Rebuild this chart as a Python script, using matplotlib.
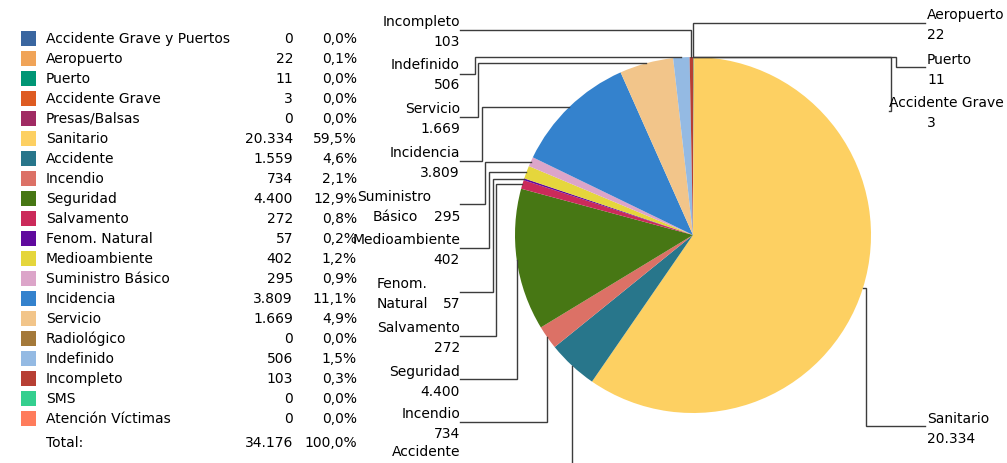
import numpy as np
import matplotlib
matplotlib.use('Agg')
import matplotlib.pyplot as plt

# data
categories = ['Accidente Grave y Puertos', 'Aeropuerto', 'Puerto', 'Accidente Grave',
              'Presas/Balsas', 'Sanitario', 'Accidente', 'Incendio', 'Seguridad',
              'Salvamento', 'Fenom. Natural', 'Medioambiente', 'Suministro Básico',
              'Incidencia', 'Servicio', 'Radiológico', 'Indefinido', 'Incompleto',
              'SMS', 'Atención Víctimas']
counts = [0, 22, 11, 3, 0, 20334, 1559, 734, 4400, 272, 57, 402, 295, 3809, 1669,
          0, 506, 103, 0, 0]
colors = ['#3A66A0', '#F0A458', '#009675', '#DE5B22', '#A02B63', '#FDD062', '#28768B',
          '#DC7166', '#477714', '#CB2A5A', '#600A9E', '#E5D63C', '#DCA5C9', '#3482CD',
          '#F2C58A', '#A4793A', '#94BAE3', '#B73F34', '#34CF8F', '#FF7C5C']

def fmt_int(v):
    return '{:,}'.format(v).replace(',', '.')

def fmt_pct(v):
    return '{:.1f}%'.format(v).replace('.', ',')

total = sum(counts)
pcts = [100.0 * c / total for c in counts]

FONT = 'DejaVu Sans'
FS = 10
LINE_C = '#3c3c3c'

fig = plt.figure(figsize=(10.07, 4.64), dpi=100)
ax = fig.add_axes([0, 0, 1, 1])

# pie, in pixel coordinates (y axis pointing down)
cx, cy, r = 693, 236, 178
ax.pie(counts, colors=colors, startangle=-90, counterclock=True,
       center=(cx, cy), radius=r, frame=True,
       wedgeprops=dict(linewidth=0))
ax.set_xlim(0, 1007)
ax.set_ylim(464, 0)
ax.set_aspect('equal')
ax.axis('off')

def txt(x, y, s, ha):
    ax.text(x, y, s, ha=ha, va='center', fontsize=FS, family=FONT)

# legend table
for i, name in enumerate(categories):
    y = 39 + 20 * i
    ax.add_patch(plt.Rectangle((21, y - 7.5), 15, 15, color=colors[i], lw=0))
    txt(46, y, name, 'left')
    txt(293, y, fmt_int(counts[i]), 'right')
    txt(357, y, fmt_pct(pcts[i]), 'right')
txt(46, 443, 'Total:', 'left')
txt(293, 443, fmt_int(total), 'right')
txt(357, 443, '100,0%', 'right')

# slice edge points (middle of each slice, clockwise from the top)
cum = np.cumsum(counts)
mid = (cum - np.array(counts) / 2.0) / total * 2 * np.pi
edge_x = cx + r * np.sin(mid)
edge_y = cy - r * np.cos(mid)

# label layout: name -> (side, first line y, leader y, elbow x)
labels = {
    'Incompleto': ('L', 22, 31, None),
    'Indefinido': ('L', 65, 75, 475),
    'Servicio': ('L', 109, 118, 478),
    'Incidencia': ('L', 153, 162, 482),
    'Suministro Básico': ('L', 197, 205, 485),
    'Medioambiente': ('L', 240, 249, 489),
    'Fenom. Natural': ('L', 284, 293, 493),
    'Salvamento': ('L', 328, 337, 496),
    'Seguridad': ('L', 372, 380, None),
    'Incendio': ('L', 414, 423, None),
    'Accidente': ('L', 452, 476, None),
    'Aeropuerto': ('R', 15, 24, None),
    'Puerto': ('R', 60, 68, 896),
    'Accidente Grave': ('R', 103, 112, 891),
    'Sanitario': ('R', 419, 427, 866),
}

for name, (side, y1, ly, ex) in labels.items():
    i = categories.index(name)
    val = fmt_int(counts[i])
    px, py = edge_x[i], edge_y[i]
    if side == 'L':
        x0 = 460
        if name == 'Suministro Básico':
            txt(357, y1, 'Suministro', 'left')
            txt(373, y1 + 20, 'Básico', 'left')
            txt(460, y1 + 20, val, 'right')
        elif name == 'Fenom. Natural':
            txt(377, y1, 'Fenom.', 'left')
            txt(377, y1 + 20, 'Natural', 'left')
            txt(460, y1 + 20, val, 'right')
        elif name == 'Accidente':
            # value line falls below the picture edge in the original
            txt(460, y1, name, 'right')
        else:
            txt(460, y1, name, 'right')
            txt(460, y1 + 20, val, 'right')
    else:
        x0 = 925
        if name == 'Accidente Grave':
            x0 = 889
            txt(889, y1, name, 'left')
        else:
            txt(927, y1, name, 'left')
        txt(927, y1 + 20, val, 'left')
    if ex is None:
        xs = [x0, px, px]
        ys = [ly, ly, py]
    else:
        xs = [x0, ex, ex, px]
        ys = [ly, ly, py, py]
    ax.plot(xs, ys, color=LINE_C, lw=1.0, clip_on=False, solid_joinstyle='miter')

fig.savefig('out.png', dpi=100)
